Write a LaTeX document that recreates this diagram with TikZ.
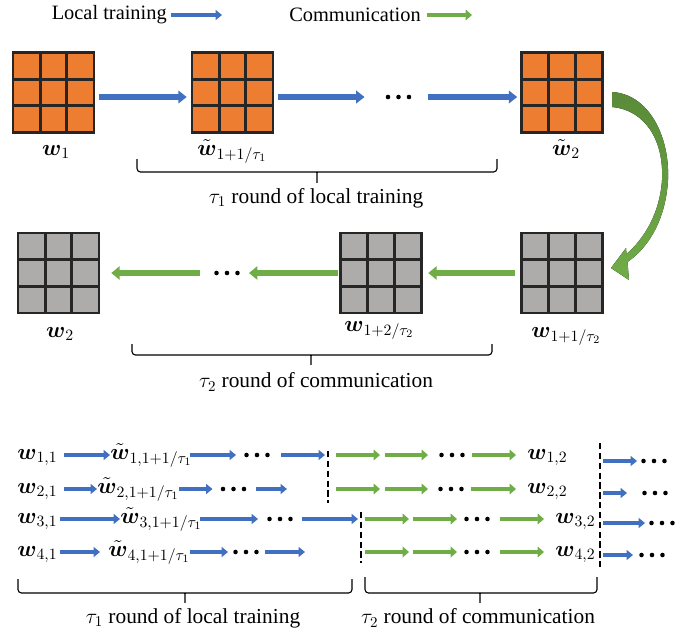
\RequirePackage{fix-cm}
\documentclass[tikz,border=0pt]{standalone}
\usepackage{amsmath}
\usepackage[no-math]{fontspec}
\setmainfont{Liberation Serif}
\usetikzlibrary{arrows.meta,calc}

\definecolor{wOrange}{HTML}{ED7D31}
\definecolor{wGray}{HTML}{AEABAB}
\definecolor{gridLine}{HTML}{262626}
\definecolor{trainBlue}{HTML}{4170C0}
\definecolor{commGreen}{HTML}{70AD47}

\newcommand{\wv}{\boldsymbol{w}}
\newcommand{\wt}{\tilde{\boldsymbol{w}}}
% brace with square ends: x1, xmid, x2, ytop, ybar, ytip
\newcommand{\roundbrace}[6]{%
  \draw[braceline] (#1,#4) |- (#2-3,#5) .. controls (#2,#5) .. (#2,#6)
    .. controls (#2,#5) .. (#2+3,#5) -| (#3,#4);}

\tikzset{
  txt/.style={inner sep=0pt, font=\fontsize{14.5}{17}\selectfont},
  captxt/.style={inner sep=0pt, font=\fontsize{15.2}{18}\selectfont},
  wlab/.style={inner sep=0pt, font=\fontsize{16}{19}\selectfont},
  trainArrow/.style={draw=trainBlue, line width=3.6pt, -{Triangle[length=6pt,width=9pt]}},
  commArrow/.style={draw=commGreen, line width=4.3pt, -{Triangle[length=6pt,width=9.5pt]}},
  trainSmall/.style={draw=trainBlue, line width=2.8pt, -{Triangle[length=4.5pt,width=7pt]}},
  commSmall/.style={draw=commGreen, line width=3.4pt, -{Triangle[length=4.5pt,width=7.5pt]}},
  gapL/.style={shorten <=#1*0.025cm},
  gapR/.style={shorten >=#1*0.025cm},
  cutline/.style={line width=0.9pt, dash pattern=on 4.5pt off 2.5pt},
  braceline/.style={line width=0.8pt, rounded corners=2.5pt},
  ellip/.style={minimum width=0.635cm, minimum height=0.15cm, inner sep=0pt,
    path picture={\foreach \k in {-1,0,1}
      \fill ([xshift=\k*0.2625cm]path picture bounding box.center) circle (0.057cm);}},
  % 3x3 weight block
  wgrid/.pic={
    \fill[#1] (-40.5,-40) rectangle (40.5,40);
    \foreach \k in {-13.3,13.3} {
      \draw[gridLine, line width=2.1pt] (\k,-40) -- (\k,40);
      \draw[gridLine, line width=2.1pt] (-40.5,\k) -- (40.5,\k);
    }
    \draw[gridLine, line width=2.1pt] (-40.5,-40) rectangle (40.5,40);
    \node[minimum width=2.025cm, minimum height=2cm, inner sep=0pt] (-box) {};
  }
}

\begin{document}
\begin{tikzpicture}[x=0.025cm, y=-0.025cm]
  \useasboundingbox (0,0) rectangle (699,639);

  % Legend
  \node[txt, anchor=east] (legTrain) at (167,15) {Local training};
  \coordinate (legTrainEnd) at (222,15);
  \draw[trainSmall, gapL=4] (legTrain.east) -- (legTrainEnd);
  \node[txt, anchor=east] (legComm) at (421,15) {Communication};
  \coordinate (legCommEnd) at (472,15);
  \draw[commSmall, gapL=6] (legComm.east) -- (legCommEnd);

  % Upper flow: local training
  \coordinate (rowTop) at (0,97);
  \pic (g1) at (53.5,92.5) {wgrid=wOrange};
  \pic (g2) at (232.5,92.5) {wgrid=wOrange};
  \pic (g3) at (562,92.5) {wgrid=wOrange};
  \node[ellip] (dTop) at (398.5,97) {};
  \draw[trainArrow, gapL=5, gapR=5] (g1-box.east |- rowTop) -- (g2-box.west |- rowTop);
  \draw[trainArrow, gapL=5, gapR=21] (g2-box.east |- rowTop) -- (dTop.west);
  \draw[trainArrow, gapL=17, gapR=4] (dTop.east) -- (g3-box.west |- rowTop);
  \node[wlab, anchor=base] (lg1) at (56,155) {$\wv_1$};
  \node[wlab, anchor=base] (lg2) at (232,155) {$\wt_{1+1/\tau_1}$};
  \node[wlab, anchor=base] (lg3) at (566,155) {$\wt_2$};
  \roundbrace{137}{317}{497}{159}{172}{185}
  \node[captxt] (capTop) at (316,198) {$\tau_1$ round of local training};

  % Upper flow: communication
  \coordinate (rowMid) at (0,273);
  \pic (g4) at (58.5,273) {wgrid=wGray};
  \pic (g5) at (381,273) {wgrid=wGray};
  \pic (g6) at (562,273) {wgrid=wGray};
  \node[ellip] (dMid) at (227,273) {};
  \draw[commArrow, gapL=6, gapR=6.5] (g6-box.west) -- (g5-box.east);
  \draw[commArrow, gapL=2.5, gapR=9] (g5-box.west) -- (dMid.east);
  \draw[commArrow, gapL=14, gapR=12] (dMid.west) -- (g4-box.east);
  \node[wlab, anchor=base] (lg4) at (60,337) {$\wv_2$};
  \node[wlab, anchor=base] (lg5) at (379,331) {$\wv_{1+2/\tau_2}$};
  \node[wlab, anchor=base] (lg6) at (566,337) {$\wv_{1+1/\tau_2}$};
  \roundbrace{132}{311}{492}{344}{355}{367}
  \node[captxt] (capMid) at (316,382) {$\tau_2$ round of communication};
  % swap from local model to communication
  \fill[top color=commGreen!80!black, bottom color=commGreen]
    (612,92) .. controls (648,94) and (670,135) .. (668,180)
    .. controls (666,215) and (652,245) .. (627.5,262)
    -- (629,280) -- (611,268) -- (626,248) -- (626.5,254)
    .. controls (645,238) and (660,212) .. (662,180)
    .. controls (664,140) and (645,110) .. (612,107) -- cycle;

  % Lower flow, four workers
  \coordinate (r1) at (0,455);
  \coordinate (r2) at (0,489);
  \coordinate (r3) at (0,519);
  \coordinate (r4) at (0,552);
  \coordinate (s1) at (0,461);
  \coordinate (s2) at (0,493);
  \coordinate (s3) at (0,523);
  \coordinate (s4) at (0,555);
  \coordinate (cut1top) at (328,451);
  \coordinate (cut1bot) at (328,503);
  \coordinate (cut2top) at (361,512);
  \coordinate (cut2bot) at (361,563);
  \coordinate (cut3top) at (600,443);
  \coordinate (cut3bot) at (600,570);
  \draw[cutline] (cut1top) -- (cut1bot);
  \draw[cutline] (cut2top) -- (cut2bot);
  \draw[cutline] (cut3top) -- (cut3bot);

  % local training
  \node[wlab, anchor=base west] (L11) at (17,459) {$\wv_{1,1}$};
  \node[wlab, anchor=base west] (L21) at (17,493) {$\wv_{2,1}$};
  \node[wlab, anchor=base west] (L31) at (17,523) {$\wv_{3,1}$};
  \node[wlab, anchor=base west] (L41) at (17,556) {$\wv_{4,1}$};
  \node[wlab, anchor=base west] (T11) at (110,459) {$\wt_{1,1+1/\tau_1}$};
  \node[wlab, anchor=base west] (T21) at (97,493) {$\wt_{2,1+1/\tau_1}$};
  \node[wlab, anchor=base west] (T31) at (120,523) {$\wt_{3,1+1/\tau_1}$};
  \node[wlab, anchor=base west] (T41) at (108,556) {$\wt_{4,1+1/\tau_1}$};
  \node[ellip] (D11) at (257,455) {};
  \node[ellip] (D21) at (233.5,489) {};
  \node[ellip] (D31) at (280,519) {};
  \node[ellip] (D41) at (246,552) {};

  \draw[trainSmall, gapL=6] (L11.east |- r1) -- (T11.west |- r1);
  \draw[trainSmall, gapL=6] (L21.east |- r2) -- (T21.west |- r2);
  \draw[trainSmall, gapL=2] (L31.east |- r3) -- (T31.west |- r3);
  \draw[trainSmall, gapL=2, gapR=8] (L41.east |- r4) -- (T41.west |- r4);
  \draw[trainSmall, gapL=-2, gapR=8] (T11.east |- r1) -- (D11.west);
  \draw[trainSmall, gapR=8] (T21.east |- r2) -- (D21.west);
  \draw[trainSmall, gapL=-2, gapR=9] (T31.east |- r3) -- (D31.west);
  \draw[trainSmall, gapR=5] (T41.east |- r4) -- (D41.west);
  \draw[trainSmall, gapL=11, gapR=3] (D11.east) -- (cut1top |- r1);
  \draw[trainSmall, gapL=10] (D21.east) -- ($(r2)+(287,0)$);
  \draw[trainSmall, gapL=9, gapR=3] (D31.east) -- (cut2top |- r3);
  \draw[trainSmall, gapL=6] (D41.east) -- ($(r4)+(305,0)$);

  % communication
  \node[wlab, anchor=base west] (M12) at (527,459) {$\wv_{1,2}$};
  \node[wlab, anchor=base west] (M22) at (527,493) {$\wv_{2,2}$};
  \node[wlab, anchor=base west] (M32) at (555,523) {$\wv_{3,2}$};
  \node[wlab, anchor=base west] (M42) at (555,556) {$\wv_{4,2}$};
  \node[ellip] (DG1) at (452,455) {};
  \node[ellip] (DG2) at (451,489) {};
  \node[ellip] (DG3) at (477,519) {};
  \node[ellip] (DG4) at (477,552) {};
  \foreach \r in {r1,r2} {
    \draw[commSmall, gapL=8] (cut1top |- \r) -- ($(\r)+(380,0)$);
    \draw[commSmall] ($(\r)+(385,0)$) -- ($(\r)+(428,0)$);
  }
  \foreach \r in {r3,r4} {
    \draw[commSmall, gapL=3.5] (cut2top |- \r) -- ($(\r)+(409,0)$);
    \draw[commSmall] ($(\r)+(413,0)$) -- ($(\r)+(457,0)$);
  }
  \draw[commSmall, gapL=7, gapR=11] (DG1.east) -- (M12.west |- r1);
  \draw[commSmall, gapL=7, gapR=11] (DG2.east) -- (M22.west |- r2);
  \draw[commSmall, gapL=10, gapR=11] (DG3.east) -- (M32.west |- r3);
  \draw[commSmall, gapL=10, gapR=11] (DG4.east) -- (M42.west |- r4);

  % next round
  \node[ellip] (DR1) at (654,461) {};
  \node[ellip] (DR2) at (655,493) {};
  \node[ellip] (DR3) at (662,523) {};
  \node[ellip] (DR4) at (652,555) {};
  \draw[trainSmall, gapL=3, gapR=4] (cut3top |- s1) -- (DR1.west);
  \draw[trainSmall, gapL=3, gapR=15] (cut3top |- s2) -- (DR2.west);
  \draw[trainSmall, gapL=3, gapR=4] (cut3top |- s3) -- (DR3.west);
  \draw[trainSmall, gapL=3, gapR=6] (cut3top |- s4) -- (DR4.west);

  \roundbrace{18}{185}{352}{579}{593}{605}
  \roundbrace{365}{480}{597}{577}{593}{605}
  \node[captxt] (capLow1) at (193,618) {$\tau_1$ round of local training};
  \node[captxt] (capLow2) at (478,618) {$\tau_2$ round of communication};
\end{tikzpicture}
\end{document}
